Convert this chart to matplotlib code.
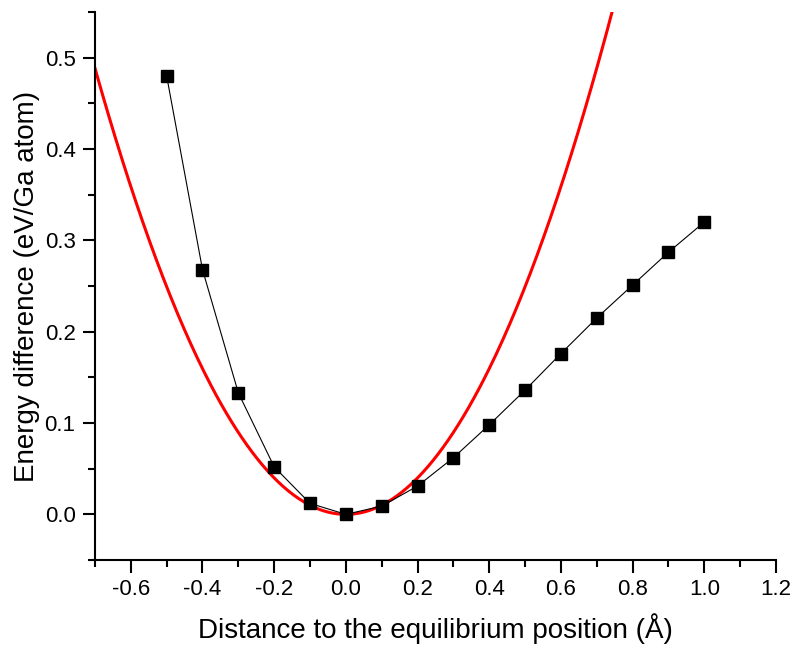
import numpy as np
import matplotlib
matplotlib.use('Agg')
import matplotlib.pyplot as plt
from matplotlib.ticker import MultipleLocator, FormatStrFormatter

plt.rcParams['font.family'] = ['Liberation Sans', 'DejaVu Sans']

# DFT points (distance in Å, energy in eV/Ga atom)
dist = [-0.5, -0.4, -0.3, -0.2, -0.1, 0.0, 0.1, 0.2, 0.3, 0.4, 0.5, 0.6, 0.7, 0.8, 0.9, 1.0]
energy = [0.480, 0.268, 0.133, 0.052, 0.012, 0.000, 0.009, 0.031, 0.062, 0.098,
          0.136, 0.176, 0.215, 0.251, 0.287, 0.320]

# harmonic fit E = k * x^2
k_fit = 0.997

fig = plt.figure(figsize=(7.94, 6.46), dpi=100)
ax = fig.add_axes([0.1196, 0.1331, 0.8577, 0.8483])

xs = np.linspace(-0.7, 1.2, 400)
ax.plot(xs, k_fit * xs**2, color='#ff0000', lw=2.2, zorder=2)
ax.plot(dist, energy, color='black', lw=0.8, marker='s', ms=8.5,
        markerfacecolor='black', markeredgecolor='black', zorder=3)

ax.set_xlim(-0.7, 1.2)
ax.set_ylim(-0.05, 0.55)

ax.spines['top'].set_visible(False)
ax.spines['right'].set_visible(False)
for s in ['left', 'bottom']:
    ax.spines[s].set_linewidth(1.5)

ax.xaxis.set_major_locator(MultipleLocator(0.2))
ax.xaxis.set_minor_locator(MultipleLocator(0.1))
ax.yaxis.set_major_locator(MultipleLocator(0.1))
ax.yaxis.set_minor_locator(MultipleLocator(0.05))
ax.xaxis.set_major_formatter(FormatStrFormatter('%.1f'))
ax.yaxis.set_major_formatter(FormatStrFormatter('%.1f'))
ax.tick_params(which='major', direction='out', length=9, width=1.5, labelsize=16)
ax.tick_params(axis='y', which='major', pad=5)
ax.tick_params(axis='x', which='major', pad=4.5)
ax.tick_params(which='minor', direction='out', length=5, width=1.5)

ax.set_xlabel('Distance to the equilibrium position (Å)', fontsize=20, labelpad=10)
ax.set_ylabel('Energy difference (eV/Ga atom)', fontsize=20, labelpad=3)

fig.savefig('out.png', dpi=100)
